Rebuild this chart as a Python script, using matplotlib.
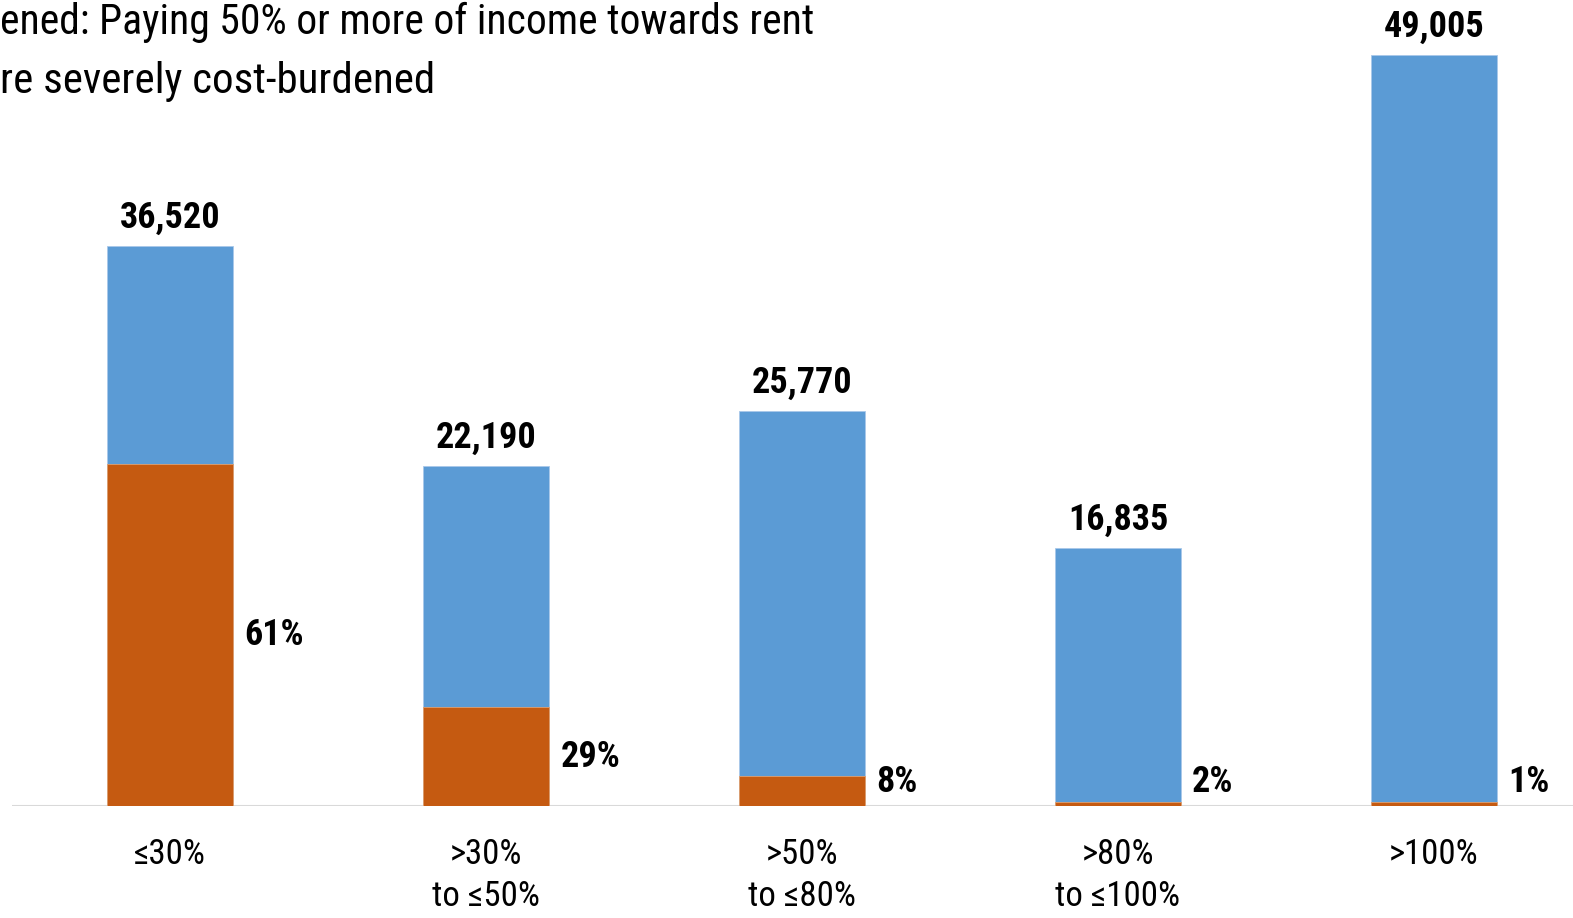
import matplotlib
matplotlib.use("Agg")
import matplotlib.pyplot as plt
import numpy as np

plt.rcParams['font.family'] = ['Liberation Sans Narrow', 'Roboto Condensed', 'DejaVu Sans']

## データ
categories = [u"\u226430%", u">30%\nto \u226450%", u">50%\nto \u226480%", u">80%\nto \u2264100%", u">100%"]
renters = [36520, 22190, 25770, 16835, 49005]
severe = [22280, 6440, 1960, 270, 230]
severe_labels = ["61%", "29%", "8%", "2%", "1%"]
legend_lines = ["ened: Paying 50% or more of income towards rent", "re severely cost-burdened"]

blue = "#5B9BD5"
orange = "#C55A11"

fig = plt.figure(figsize=(15.73, 9.18), dpi=100)
ax = fig.add_axes([0, 112/918, 1, 806/918])
x = np.arange(len(categories))
w = 0.4

## 全体（青）と重度負担（オレンジ）
ax.bar(x, renters, width=w, color=blue, edgecolor="#a9c8ea", linewidth=0.6, zorder=2)
ax.bar(x, severe, width=w, color=orange, edgecolor="#e0a070", linewidth=0.6, zorder=3)

## ラベル
for xi, v in zip(x, renters):
    ax.text(xi, v + 650, "{:,d}".format(v), ha="center", va="bottom",
            fontsize=26, fontweight="bold", color="black")
for xi, v, lab in zip(x, severe, severe_labels):
    ax.text(xi + w/2 + 0.035, max(v/2, 1550), lab, ha="left", va="center",
            fontsize=26, fontweight="bold", color="black")

ax.hlines(0, -0.5, 4.6, color="#d9d9d9", linewidth=1.5, zorder=1)
ax.set_xlim(-0.538, 4.44)
ax.set_ylim(0, 52580)
ax.set_xticks(x)
ax.set_xticklabels(categories, fontsize=25, linespacing=1.35)
ax.tick_params(axis="x", length=0, pad=23)
ax.set_yticks([])
for s in ax.spines.values():
    s.set_visible(False)

## 凡例（左上、左端で切れている部分は描かない）
fig.text(0, 1 - 2/918, legend_lines[0], ha="left", va="top", fontsize=30)
fig.text(0, 1 - 82/918, legend_lines[1], ha="left", va="center", fontsize=31)

fig.savefig("out.png", dpi=100)
